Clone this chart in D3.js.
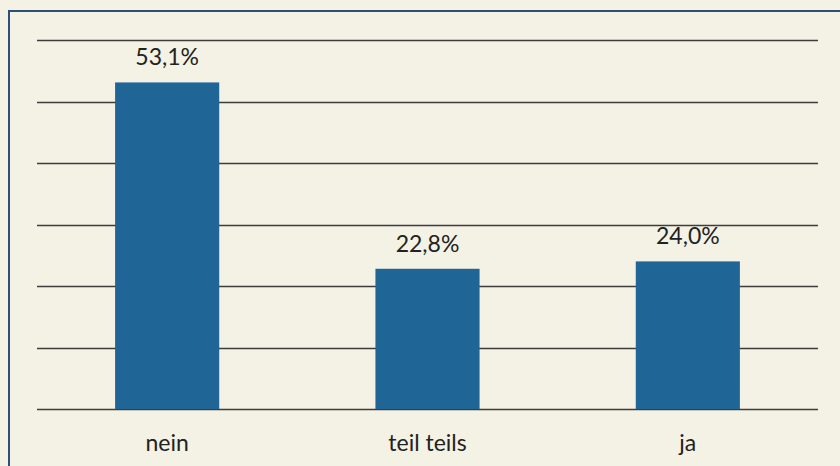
<!DOCTYPE html>
<html><head><meta charset="utf-8">
<script src="https://cdn.jsdelivr.net/npm/d3@7"></script>
<style>
html,body{margin:0;padding:0;background:#f4f1e5;}
svg{display:block;}
</style></head>
<body>
<svg id="chart" width="840" height="466"></svg>
<script>
const categories = ["nein", "teil teils", "ja"];
const values = [53.1, 22.8, 24.0];
const valueLabels = ["53,1%", "22,8%", "24,0%"];
const gridTicks = [0, 10, 20, 30, 40, 50, 60];

(function () {
const svg = d3.select("#chart");
const W = 840, H = 466;
const plotLeft = 37, plotRight = 818, plotTop = 40, plotBottom = 409;

svg.append("rect").attr("width", W).attr("height", H).attr("fill", "#f4f1e5");

// frame
svg.append("rect").attr("x", 9).attr("y", 11).attr("width", 860).attr("height", 500)
  .attr("fill", "none").attr("stroke", "#2d4f78").attr("stroke-width", 2);

const x = d3.scaleBand().domain(categories).range([plotLeft, plotRight])
  .paddingInner(0.6).paddingOuter(0.3);
const y = d3.scaleLinear().domain([0, 60]).range([plotBottom, plotTop]);

// gridlines
svg.append("g").selectAll("line").data(gridTicks).join("line")
  .attr("x1", plotLeft).attr("x2", plotRight)
  .attr("y1", d => Math.round(y(d)) + 0.5).attr("y2", d => Math.round(y(d)) + 0.5)
  .attr("stroke", "#3d3d3d").attr("stroke-width", 1.6);

// bars
svg.append("g").selectAll("rect").data(values).join("rect")
  .attr("x", (d, i) => x(categories[i]))
  .attr("width", x.bandwidth())
  .attr("y", d => y(d))
  .attr("height", d => y(0) - y(d))
  .attr("fill", "#1f6596");

// value labels
svg.append("g").selectAll("text").data(values).join("text")
  .attr("x", (d, i) => x(categories[i]) + x.bandwidth() / 2)
  .attr("y", d => y(d) - 17)
  .attr("text-anchor", "middle")
  .attr("font-family", "Lato, 'Open Sans', sans-serif")
  .attr("font-size", 23)
  .attr("fill", "#222")
  .text((d, i) => valueLabels[i]);

// category labels
svg.append("g").selectAll("text").data(categories).join("text")
  .attr("x", d => x(d) + x.bandwidth() / 2)
  .attr("y", 451)
  .attr("text-anchor", "middle")
  .attr("font-family", "Lato, 'Open Sans', sans-serif")
  .attr("font-size", 23)
  .attr("fill", "#222")
  .text(d => d);
})();
</script>
</body></html>
